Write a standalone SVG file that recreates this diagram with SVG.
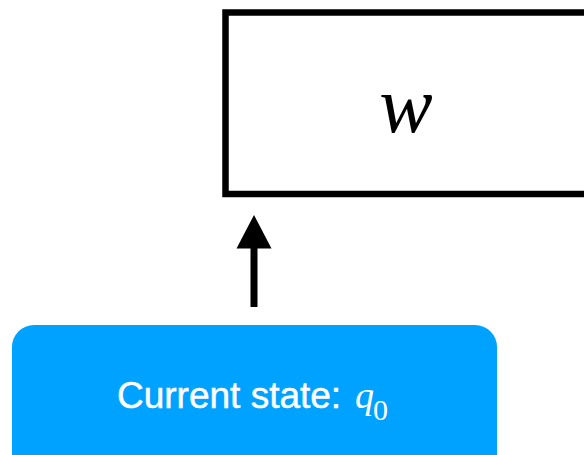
<svg xmlns="http://www.w3.org/2000/svg" width="584" height="455" viewBox="0 0 584 455">
<style>
.tape{fill:#ffffff;stroke:#000000;stroke-width:6.5}
.state{fill:#00A2FF}
.lbl{font-family:"Liberation Sans",Arial,sans-serif;font-size:37px;fill:#ffffff;stroke:#ffffff;stroke-width:0.5}
.math{font-family:"Liberation Serif","Times New Roman",serif;font-style:italic}
.sub{font-family:"Liberation Serif","Times New Roman",serif;font-style:normal;font-size:30px;stroke-width:0}
.conn{stroke:#000000;stroke-width:7;fill:none}
</style>
<rect width="584" height="455" fill="#ffffff"/>
<g id="tape">
<rect class="tape" x="225.5" y="12.5" width="400" height="181.5"/>
<text class="math" x="406" y="132" font-size="80" text-anchor="middle" fill="#000000">w</text>
</g>
<g id="state">
<rect class="state" x="12" y="325" width="485" height="160" rx="22" ry="22"/>
<text class="lbl" x="117" y="408">Current state: <tspan class="math" x="355" font-size="38" style="stroke-width:0">q</tspan><tspan class="sub" x="373" y="420">0</tspan></text>
</g>
<g id="connectors">
<line class="conn" x1="254" y1="307" x2="254" y2="248"/>
<polygon points="236.5,248.5 254,215 271.5,248.5" fill="#000000"/>
</g>
</svg>
